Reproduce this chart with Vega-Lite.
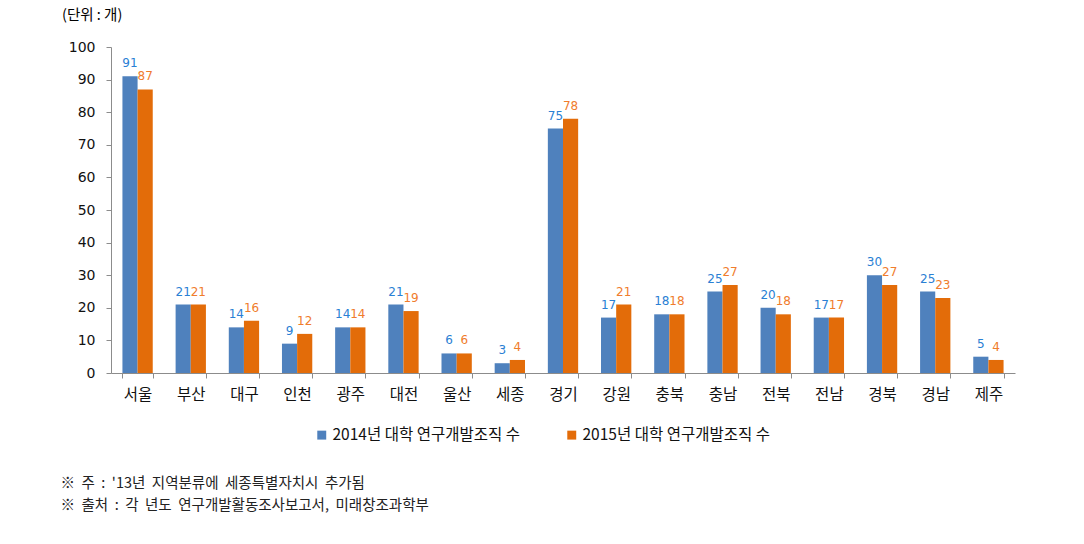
{
  "$schema": "https://vega.github.io/schema/vega-lite/v6.json",
  "autosize": {"type": "none"},
  "padding": {"left": 111, "top": 47, "right": 69, "bottom": 171},
  "width": 904,
  "height": 326,
  "background": "white",
  "view": {"stroke": null},
  "title": {
    "text": "(단위 : 개)",
    "anchor": "start",
    "frame": "group",
    "dx": -49,
    "offset": 17,
    "font": "Noto Sans CJK KR",
    "fontSize": 14.5,
    "fontWeight": "normal",
    "color": "#000000"
  },
  "data": {
    "values": [
      {"region": "서울", "series": "2014년 대학 연구개발조직 수", "value": 91},
      {"region": "서울", "series": "2015년 대학 연구개발조직 수", "value": 87},
      {"region": "부산", "series": "2014년 대학 연구개발조직 수", "value": 21},
      {"region": "부산", "series": "2015년 대학 연구개발조직 수", "value": 21},
      {"region": "대구", "series": "2014년 대학 연구개발조직 수", "value": 14},
      {"region": "대구", "series": "2015년 대학 연구개발조직 수", "value": 16},
      {"region": "인천", "series": "2014년 대학 연구개발조직 수", "value": 9},
      {"region": "인천", "series": "2015년 대학 연구개발조직 수", "value": 12},
      {"region": "광주", "series": "2014년 대학 연구개발조직 수", "value": 14},
      {"region": "광주", "series": "2015년 대학 연구개발조직 수", "value": 14},
      {"region": "대전", "series": "2014년 대학 연구개발조직 수", "value": 21},
      {"region": "대전", "series": "2015년 대학 연구개발조직 수", "value": 19},
      {"region": "울산", "series": "2014년 대학 연구개발조직 수", "value": 6},
      {"region": "울산", "series": "2015년 대학 연구개발조직 수", "value": 6},
      {"region": "세종", "series": "2014년 대학 연구개발조직 수", "value": 3},
      {"region": "세종", "series": "2015년 대학 연구개발조직 수", "value": 4},
      {"region": "경기", "series": "2014년 대학 연구개발조직 수", "value": 75},
      {"region": "경기", "series": "2015년 대학 연구개발조직 수", "value": 78},
      {"region": "강원", "series": "2014년 대학 연구개발조직 수", "value": 17},
      {"region": "강원", "series": "2015년 대학 연구개발조직 수", "value": 21},
      {"region": "충북", "series": "2014년 대학 연구개발조직 수", "value": 18},
      {"region": "충북", "series": "2015년 대학 연구개발조직 수", "value": 18},
      {"region": "충남", "series": "2014년 대학 연구개발조직 수", "value": 25},
      {"region": "충남", "series": "2015년 대학 연구개발조직 수", "value": 27},
      {"region": "전북", "series": "2014년 대학 연구개발조직 수", "value": 20},
      {"region": "전북", "series": "2015년 대학 연구개발조직 수", "value": 18},
      {"region": "전남", "series": "2014년 대학 연구개발조직 수", "value": 17},
      {"region": "전남", "series": "2015년 대학 연구개발조직 수", "value": 17},
      {"region": "경북", "series": "2014년 대학 연구개발조직 수", "value": 30},
      {"region": "경북", "series": "2015년 대학 연구개발조직 수", "value": 27},
      {"region": "경남", "series": "2014년 대학 연구개발조직 수", "value": 25},
      {"region": "경남", "series": "2015년 대학 연구개발조직 수", "value": 23},
      {"region": "제주", "series": "2014년 대학 연구개발조직 수", "value": 5},
      {"region": "제주", "series": "2015년 대학 연구개발조직 수", "value": 4}
    ]
  },
  "encoding": {
    "x": {
      "field": "region",
      "type": "nominal",
      "sort": null,
      "scale": {"paddingInner": 0.43, "paddingOuter": 0.215},
      "axis": {
        "title": ["※\u00a0\u00a0주\u00a0\u00a0:\u00a0\u00a0'13년\u00a0\u00a0지역분류에\u00a0\u00a0세종특별자치시\u00a0\u00a0추가됨", "※\u00a0\u00a0출처\u00a0\u00a0:\u00a0\u00a0각\u00a0\u00a0년도\u00a0\u00a0연구개발활동조사보고서,\u00a0\u00a0미래창조과학부"],
        "titleX": -51,
        "titleY": 110,
        "titleAlign": "left",
        "titleAnchor": "start",
        "titleBaseline": "middle",
        "titleLineHeight": 22,
        "titleFont": "Noto Sans CJK KR",
        "titleFontSize": 14.5,
        "titleFontWeight": "normal",
        "titleColor": "#222222",
        "titleLimit": 800,
        "labelAngle": 0,
        "labelFont": "Noto Sans CJK KR",
        "labelFontSize": 15.5,
        "labelColor": "#111111",
        "labelPadding": 9,
        "tickBand": "extent",
        "tickSize": 5,
        "tickColor": "#8c8c8c",
        "domainColor": "#8c8c8c",
        "grid": false
      }
    },
    "y": {
      "field": "value",
      "type": "quantitative",
      "scale": {"domain": [0, 100], "nice": false},
      "axis": {
        "title": null,
        "values": [0, 10, 20, 30, 40, 50, 60, 70, 80, 90, 100],
        "labelFont": "DejaVu Sans",
        "labelFontSize": 14,
        "labelColor": "#111111",
        "labelPadding": 11,
        "tickSize": 5,
        "tickColor": "#8c8c8c",
        "domainColor": "#8c8c8c",
        "grid": false
      }
    },
    "xOffset": {"field": "series", "type": "nominal", "scale": {"paddingInner": 0, "paddingOuter": 0}}
  },
  "layer": [
    {
      "mark": {"type": "bar"},
      "encoding": {
        "color": {
          "field": "series",
          "type": "nominal",
          "scale": {"range": ["#4F81BD", "#E36C09"]},
          "legend": {
            "title": null,
            "orient": "none",
            "legendX": 203,
            "legendY": 380,
            "direction": "horizontal",
            "symbolType": "square",
            "symbolSize": 80,
            "symbolStrokeWidth": 0,
            "labelFont": "Noto Sans CJK KR",
            "labelFontSize": 15.5,
            "labelColor": "#111111",
            "labelOffset": 3,
            "labelLimit": 400,
            "columnPadding": 44
          }
        }
      }
    },
    {
      "mark": {"type": "text", "dy": -9, "font": "DejaVu Sans", "fontSize": 12, "baseline": "alphabetic"},
      "encoding": {
        "text": {"field": "value", "type": "quantitative"},
        "y": {"field": "value", "type": "quantitative"},
        "color": {
          "field": "series",
          "type": "nominal",
          "scale": {"range": ["#2A80D4", "#F07C2C"]},
          "legend": null
        }
      }
    }
  ],
  "resolve": {"scale": {"color": "independent"}}
}
